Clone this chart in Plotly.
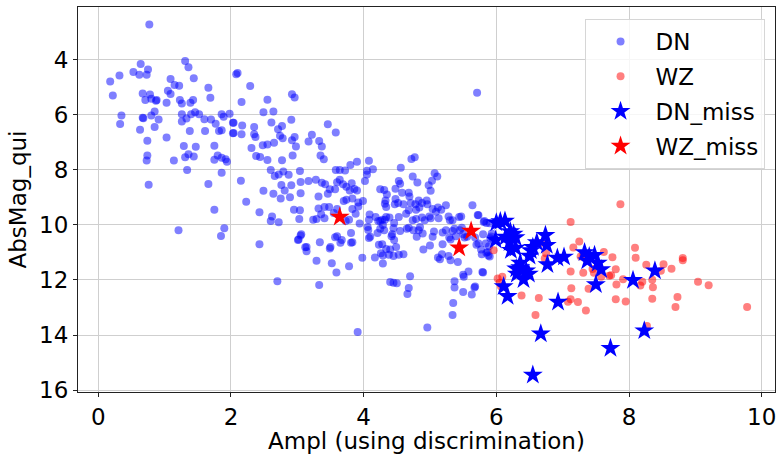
import plotly.graph_objects as go

# ---- data ----
dn_points = [
    (0.77, 2.72),
    (0.18, 4.79), (0.22, 5.30), (0.32, 4.57), (0.35, 6.02), (0.33, 6.33), (0.53, 4.44), (0.64, 4.15),
    (0.62, 4.54), (0.73, 4.54), (0.75, 4.35), (0.67, 5.22), (0.71, 5.46), (0.78, 5.26), (0.80, 5.41),
    (0.88, 5.46), (0.87, 5.49), (0.68, 6.12), (0.67, 6.10), (0.80, 6.02), (0.85, 5.88), (0.91, 6.17),
    (0.85, 6.44), (0.63, 6.54), (0.74, 6.94), (0.74, 7.48), (0.73, 7.66), (0.76, 8.54), (1.03, 6.82),
    (1.03, 5.56), (1.05, 5.12), (1.09, 4.70), (1.09, 5.24), (1.15, 4.91), (1.22, 4.94), (1.14, 7.66),
    (1.31, 4.04), (1.36, 4.27), (1.44, 4.67), (1.23, 5.46), (1.26, 5.59), (1.39, 5.56), (1.43, 5.46),
    (1.26, 5.98), (1.33, 6.13), (1.26, 6.24), (1.40, 5.98), (1.46, 5.90), (1.52, 5.98), (1.60, 6.16),
    (1.38, 6.59), (1.29, 7.13), (1.47, 7.16), (1.36, 7.43), (1.31, 7.54), (1.44, 7.51), (1.34, 8.00),
    (1.61, 6.59), (1.66, 5.01), (1.69, 5.38), (1.70, 6.17), (1.77, 6.32), (1.75, 7.12), (1.75, 7.63),
    (1.80, 7.48), (1.86, 7.56), (1.92, 7.61), (1.94, 7.70), (1.86, 8.10), (1.66, 8.51), (1.82, 6.59),
    (1.86, 6.56), (1.86, 5.98), (1.89, 6.07), (1.98, 5.96), (2.04, 6.29), (2.04, 6.66), (2.08, 4.52),
    (2.10, 4.48),
    (2.15, 8.39), (1.75, 9.45), (2.23, 9.16), (1.21, 10.19), (1.90, 10.12), (1.85, 10.40), (2.43, 10.70),
    (2.43, 9.54),
    (2.29, 4.95), (2.92, 5.25), (2.96, 5.37), (2.55, 5.45), (2.49, 5.90), (2.64, 5.88), (2.91, 6.18),
    (2.61, 6.28), (2.35, 6.44), (2.77, 6.40), (2.71, 6.52), (3.46, 6.34), (3.58, 6.64), (2.35, 6.70),
    (2.37, 6.80), (2.74, 6.76), (2.78, 6.85), (2.96, 6.80), (2.92, 6.92), (3.22, 6.72), (3.17, 6.97),
    (3.33, 6.95), (3.37, 7.15), (2.31, 7.20), (2.48, 7.10), (2.55, 7.08), (2.65, 7.01), (2.98, 7.15),
    (2.38, 7.49), (2.44, 7.53), (2.55, 7.64), (2.77, 7.65), (2.93, 7.48), (3.35, 7.48), (3.40, 7.61),
    (3.80, 7.82), (3.90, 7.70), (4.08, 7.67), (4.05, 8.03), (4.14, 7.98), (4.02, 8.40), (4.05, 8.17),
    (4.56, 7.92), (4.72, 7.60), (4.77, 7.54), (4.74, 8.24), (4.81, 8.46), (4.53, 8.40), (4.55, 8.50),
    (4.48, 8.68), (4.58, 8.83), (4.68, 8.83), (4.69, 8.97), (5.07, 8.12), (5.11, 8.24), (4.98, 8.56),
    (5.03, 8.39), (5.01, 8.76), (5.71, 5.20), (3.58, 8.00), (3.64, 8.00), (3.04, 8.04), (2.60, 8.00),
    (2.66, 8.22), (2.72, 8.17), (2.79, 8.06), (2.87, 8.18), (2.76, 8.55), (2.91, 8.56), (2.49, 8.76),
    (2.64, 8.87), (3.05, 8.44), (3.05, 8.85), (3.17, 8.40), (3.28, 8.36), (3.37, 8.47), (3.42, 8.52),
    (3.49, 8.70), (3.57, 8.70), (3.60, 8.45), (3.64, 8.36), (3.69, 8.52), (3.74, 8.61), (3.82, 8.48),
    (3.79, 8.75), (3.86, 8.69), (3.90, 8.75), (3.32, 8.97), (3.46, 8.87), (4.25, 8.70), (4.31, 8.73),
    (2.16, 5.53), (2.03, 6.29), (2.17, 6.39), (2.03, 6.67), (2.16, 6.70),
    (2.62, 9.69), (2.60, 9.86), (2.72, 9.90), (2.95, 9.45), (3.04, 9.47), (3.03, 9.78), (3.24, 9.81),
    (3.29, 9.78), (3.36, 9.61), (3.41, 9.76), (3.32, 9.40), (3.41, 9.35), (3.48, 9.35), (3.60, 9.42),
    (3.55, 9.57), (3.70, 9.13), (3.73, 9.86), (3.78, 9.81), (3.83, 9.42), (3.92, 9.33), (3.88, 9.59),
    (3.81, 10.29), (3.60, 10.41), (3.67, 10.55), (3.34, 10.63), (3.06, 10.34), (3.02, 10.53), (3.14, 10.80),
    (3.50, 10.80), (3.94, 9.95), (4.08, 9.81), (4.06, 10.07), (4.18, 9.71), (4.22, 9.86), (4.28, 9.81),
    (4.29, 10.00), (4.34, 9.71), (4.34, 9.35), (4.32, 9.23), (4.10, 10.43), (4.21, 10.29), (4.28, 10.70),
    (3.83, 10.63),
    (3.74, 9.08), (3.83, 9.04), (3.92, 9.18), (3.99, 9.13), (2.75, 9.04), (2.89, 8.99), (2.81, 8.75),
    (4.33, 9.11), (4.35, 8.89), (3.72, 8.02),
    (4.48, 9.06), (4.52, 9.20), (4.47, 9.25), (4.60, 9.25), (4.64, 9.59), (4.68, 9.47), (4.71, 9.20),
    (4.78, 9.25), (4.83, 9.11), (4.88, 9.20), (4.95, 9.11), (4.96, 9.25), (4.79, 9.45), (4.84, 9.37),
    (4.74, 9.83), (4.79, 9.78), (4.88, 9.73), (4.92, 9.83), (4.99, 9.69), (5.01, 9.76), (5.04, 9.42),
    (5.12, 9.37), (5.09, 9.52), (5.17, 9.45), (5.24, 9.28), (5.13, 9.76), (5.28, 9.69), (5.30, 9.83),
    (5.34, 9.83), (5.44, 9.71), (5.47, 9.69), (5.64, 9.28), (5.72, 9.64), (5.82, 9.86), (5.85, 9.93),
    (4.39, 9.73), (4.46, 9.93), (4.32, 9.81), (4.25, 9.86), (4.53, 9.71), (4.25, 10.14), (4.31, 10.19),
    (4.43, 10.34), (4.42, 10.41), (4.45, 10.12), (4.46, 10.55), (4.55, 10.22), (4.65, 10.14), (4.68, 10.10),
    (4.75, 10.19), (4.83, 10.19), (4.85, 10.07), (4.80, 10.43), (4.89, 10.31), (4.90, 10.89), (5.00, 10.75),
    (5.04, 10.43), (5.06, 10.24), (5.19, 10.27), (5.24, 10.19), (5.19, 10.70), (5.29, 10.46), (5.34, 10.22),
    (5.37, 10.14), (5.31, 10.53), (5.39, 10.41), (5.45, 10.19), (5.48, 10.10), (5.50, 10.34), (5.52, 10.46),
    (5.56, 10.43), (5.68, 10.46), (5.70, 10.72), (5.73, 10.67), (5.80, 10.34), (5.84, 10.67), (5.89, 10.77),
    (5.91, 10.48), (5.93, 10.31), (5.85, 11.01), (5.88, 11.11), (5.77, 10.89), (5.78, 11.06), (5.31, 11.28),
    (5.28, 11.13), (5.15, 11.25), (5.18, 11.06), (5.12, 11.18), (5.42, 11.35), (4.29, 11.11), (4.38, 11.08),
    (4.45, 11.13), (4.53, 11.08), (4.60, 11.06), (4.49, 10.80), (4.40, 10.89), (4.34, 10.87), (4.29, 11.40),
    (4.70, 11.86), (4.45, 12.10), (4.50, 12.12), (4.40, 12.07), (4.68, 12.29), (5.37, 12.05), (5.37, 12.27),
    (5.50, 11.81), (5.58, 11.69), (5.51, 11.88), (5.68, 12.24), (5.79, 11.71),
    (2.70, 12.05), (3.33, 12.18), (3.91, 13.89), (4.96, 13.73), (5.35, 12.84), (5.34, 13.27), (5.50, 12.44),
    (5.63, 12.53), (4.66, 12.51), (3.78, 11.50), (3.59, 11.73), (3.52, 11.39), (3.29, 11.30), (3.49, 10.86),
    (3.01, 10.55), (3.05, 10.38), (3.12, 10.81), (3.14, 10.96), (3.57, 10.45), (3.65, 10.65), (3.81, 10.65),
    (3.98, 11.19), (4.08, 10.47), (4.17, 11.18), (4.26, 11.03), (4.23, 10.72), (4.07, 10.18), (4.09, 9.62),
    (5.73, 9.65), (5.81, 9.89), (5.90, 9.94), (5.92, 10.42), (5.95, 10.55), (5.87, 10.98), (5.90, 11.15),
    (5.80, 11.73), (5.67, 12.27),
]

wz_points = [
    (5.96, 10.92), (6.09, 11.88), (6.05, 12.10), (6.02, 11.95), (6.07, 12.24), (6.38, 12.56), (6.64, 12.65),
    (6.59, 13.27), (6.69, 10.65), (6.75, 11.03), (6.73, 11.22), (7.12, 9.89), (7.16, 10.82), (7.25, 10.60),
    (7.12, 11.69), (7.13, 12.30), (7.12, 12.70), (7.08, 12.79), (7.23, 12.80), (7.35, 13.11), (7.31, 11.74),
    (7.27, 11.15), (7.31, 11.13), (7.39, 12.32), (7.45, 11.60), (7.47, 11.74), (7.62, 10.98), (7.75, 11.17),
    (7.70, 11.85), (7.73, 11.83), (7.80, 11.61), (7.81, 12.16), (7.80, 12.70), (7.91, 11.97), (7.95, 12.78),
    (7.87, 9.25), (8.09, 10.83), (8.10, 11.19), (8.26, 11.45), (8.17, 12.20), (8.20, 12.06), (8.35, 11.99),
    (8.36, 12.26), (8.35, 12.68), (8.27, 13.67), (8.48, 11.66), (8.52, 11.43), (8.64, 11.59), (8.81, 11.20),
    (8.81, 11.28), (8.73, 12.62), (8.70, 12.98), (9.04, 12.06), (9.20, 12.19), (9.78, 12.98), (7.58, 11.88),
]

dn_miss_points = [
    (6.00, 9.92), (6.06, 9.87), (6.13, 9.86), (5.99, 10.55), (6.21, 10.24), (6.26, 10.33), (6.14, 10.44),
    (6.29, 10.46), (6.20, 10.64), (6.29, 10.84), (6.22, 10.92), (6.74, 10.37), (6.61, 10.64), (6.76, 10.74),
    (6.55, 10.81), (6.50, 11.13), (6.52, 10.93), (6.36, 11.38), (6.30, 11.59), (6.45, 11.66), (6.31, 11.78),
    (6.41, 11.98), (6.49, 11.78), (6.36, 11.55), (6.92, 11.20), (7.02, 11.16), (6.77, 11.44), (6.11, 12.24),
    (6.17, 12.59), (6.93, 12.80), (6.67, 13.95), (6.55, 15.45), (7.33, 11.00), (7.40, 11.15), (7.48, 11.10),
    (7.37, 11.30), (7.53, 11.38), (7.58, 11.62), (7.50, 12.16), (7.72, 14.48), (8.06, 12.01), (8.39, 11.66),
    (8.23, 13.84),
]

wz_miss_points = [(3.64, 9.71), (5.62, 10.22), (5.44, 10.83)]

x_ticks = [0, 2, 4, 6, 8, 10]
y_ticks = [4, 6, 8, 10, 12, 14, 16]

FONT = "DejaVu Sans"
FS = 23


def xs(pts):
    return [p[0] for p in pts]


def ys(pts):
    return [p[1] for p in pts]


fig = go.Figure()
fig.add_trace(go.Scatter(
    x=xs(dn_points), y=ys(dn_points), mode="markers", name="DN", legendgroup="a",
    marker=dict(color="rgba(0,0,255,0.5)", size=8, line=dict(width=0)),
))
fig.add_trace(go.Scatter(
    x=xs(wz_points), y=ys(wz_points), mode="markers", name="WZ", legendgroup="b",
    marker=dict(color="rgba(255,0,0,0.5)", size=8, line=dict(width=0)),
))
fig.add_trace(go.Scatter(
    x=xs(dn_miss_points), y=ys(dn_miss_points), mode="markers", name="DN_miss", legendgroup="c",
    marker=dict(color="rgb(0,0,255)", size=15, symbol="star", line=dict(width=0)),
))
fig.add_trace(go.Scatter(
    x=xs(wz_miss_points), y=ys(wz_miss_points), mode="markers", name="WZ_miss", legendgroup="d",
    marker=dict(color="rgb(255,0,0)", size=15, symbol="star", line=dict(width=0)),
))

axis_common = dict(
    showgrid=True, gridcolor="#cfcfcf", gridwidth=1,
    showline=True, linecolor="#222222", linewidth=1, mirror=True,
    ticks="outside", ticklen=4, tickcolor="#222222", tickwidth=1,
    tickfont=dict(family=FONT, size=FS, color="black"),
    zeroline=False,
)

fig.update_layout(
    width=778, height=454,
    margin=dict(l=78, r=3, t=7, b=62),
    paper_bgcolor="white", plot_bgcolor="white",
    font=dict(family=FONT, size=FS, color="black"),
    xaxis=dict(
        range=[-0.305, 10.2], tickvals=x_ticks,
        title=dict(text="Ampl (using discrimination)", font=dict(family=FONT, size=FS), standoff=4),
        **axis_common,
    ),
    yaxis=dict(
        range=[16.07, 2.08], tickvals=y_ticks,
        title=dict(text="AbsMag_qui", font=dict(family=FONT, size=FS), standoff=6),
        **axis_common,
    ),
    legend=dict(
        x=0.985, y=0.969, xanchor="right", yanchor="top",
        bgcolor="rgba(255,255,255,0.8)", bordercolor="#d6d6d6", borderwidth=1,
        font=dict(family=FONT, size=FS), itemwidth=60,
        traceorder="grouped", tracegroupgap=2,
    ),
    showlegend=True,
)

fig.write_html("out.html")
